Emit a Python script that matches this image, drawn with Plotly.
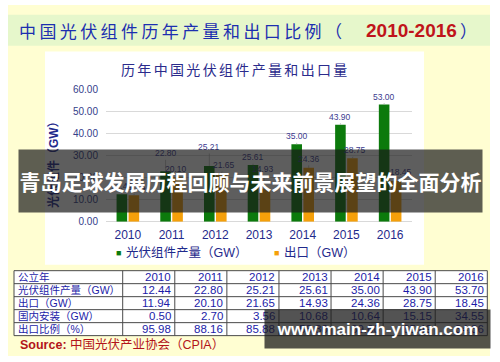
import plotly.graph_objects as go

W, H = 500, 362

# ---------------- data ----------------
years = ["2010", "2011", "2012", "2013", "2014", "2015", "2016"]
production_chart = [12.44, 22.80, 25.21, 25.61, 35.00, 43.90, 53.00]
export_chart = [11.94, 20.10, 21.65, 14.93, 24.36, 28.75, 18.45]
y_ticks = [0, 10, 20, 30, 40, 50, 60]

table_corner = "公立年"
row_labels = ["光伏组件产量（GW）", "出口（GW）", "国内安装（GW）", "出口比例（%）"]
table_production = ["12.44", "22.80", "25.21", "25.61", "35.00", "43.90", "53.70"]
table_export = ["11.94", "20.10", "21.65", "14.93", "24.36", "28.75", "18.45"]
table_domestic = ["0.50", "2.70", "3.56", "10.68", "10.64", "15.15", "34.55"]
table_ratio = ["95.98", "88.16", "85.88", "58.30", "69.60", "65.49", "34.36"]

main_title = "中国光伏组件历年产量和出口比例（"
main_title_years = "2010-2016"
chart_title = "历年中国光伏组件产量和出口量"
y_title = "光伏组件（GW）"
legend_names = ["光伏组件产量（GW）", "出口（GW）"]
source_text = "Source: 中国光伏产业协会（CPIA）"
overlay_text = "青岛足球发展历程回顾与未来前景展望的全面分析"
watermark_text = "www.main-zh-yiwan.com"

# ---------------- styles ----------------
GREEN = "#0c7a0c"
ORANGE = "#f5a00a"
NAVY = "#1f2a8c"
LABEL = "#3b3b8f"
CJK = "Noto Sans CJK SC"
SANS = "Liberation Sans, Arial, Noto Sans CJK SC"


def px(x):
    return x / W


def py(y):
    return 1 - y / H


def spaced(s, sp):
    return sp.join(list(s))


fig = go.Figure()
fig.add_trace(go.Bar(x=years, y=production_chart, name=legend_names[0],
                     marker=dict(color=GREEN, line=dict(width=0)), hoverinfo="skip"))
fig.add_trace(go.Bar(x=years, y=export_chart, name=legend_names[1],
                     marker=dict(color=ORANGE, line=dict(width=0)), hoverinfo="skip"))

shapes = []
# backgrounds
shapes.append(dict(type="rect", xref="paper", yref="paper", x0=px(8), x1=px(490), y0=0, y1=1,
                   fillcolor="#fffed2", line=dict(width=0), layer="below"))
shapes.append(dict(type="rect", xref="paper", yref="paper", x0=px(8), x1=px(490), y0=py(42), y1=py(10),
                   fillcolor="#e6f7cb", line=dict(width=0), layer="below"))
shapes.append(dict(type="rect", xref="paper", yref="paper", x0=px(45), x1=px(424), y0=py(268), y1=py(48),
                   fillcolor="#ffffff", line=dict(width=0), layer="below"))

annotations = []
# main title
annotations.append(dict(text=spaced(main_title, "\u2009"), xref="paper", yref="paper",
                        x=px(17), y=py(26), xanchor="left", yanchor="middle", showarrow=False,
                        font=dict(family=CJK, size=17, color="#1c2fb0")))
annotations.append(dict(text="<b>" + main_title_years + "</b>", xref="paper", yref="paper",
                        x=px(364), y=py(26), xanchor="left", yanchor="middle", showarrow=False,
                        font=dict(family="Liberation Sans", size=19, color="#c0141a")))
annotations.append(dict(text="）", xref="paper", yref="paper",
                        x=px(458), y=py(26), xanchor="left", yanchor="middle", showarrow=False,
                        font=dict(family=CJK, size=17, color="#1c2fb0")))
# chart title
annotations.append(dict(text=spaced(chart_title, "\u2006"), xref="paper", yref="paper",
                        x=px(234), y=py(66), xanchor="center", yanchor="middle", showarrow=False,
                        font=dict(family=CJK, size=14, color="#2b2b8c")))
# y axis title
annotations.append(dict(text="<b>" + y_title + "</b>", xref="paper", yref="paper",
                        x=px(53), y=py(162), xanchor="center", yanchor="middle", showarrow=False,
                        textangle=-90, font=dict(family=SANS, size=12, color=NAVY)))

# data labels (x given as category index on the category axis)
green_ay = [-8, -18, -19, -8, -8, -8, -8]
orange_ax = [2, -2, 3, -2, 0, 3, 5]
orange_ay = [-8, -8, -9, -20, -9, -8, -9]
for i, yr in enumerate(years):
    annotations.append(dict(x=i, y=production_chart[i], xref="x", yref="y",
                            text=f"{production_chart[i]:.2f}", showarrow=True, arrowhead=0,
                            arrowwidth=0.7, arrowcolor="#aaaaaa", ax=0, ay=green_ay[i], xshift=-6,
                            font=dict(family=SANS, size=8.5, color=LABEL)))
    annotations.append(dict(x=i, y=export_chart[i], xref="x", yref="y",
                            text=f"{export_chart[i]:.2f}", showarrow=True, arrowhead=0,
                            arrowwidth=0.7, arrowcolor="#aaaaaa", ax=orange_ax[i], ay=orange_ay[i], xshift=6,
                            font=dict(family=SANS, size=8.5, color=LABEL)))

# legend
annotations.append(dict(text="■", xref="paper", yref="paper", x=px(118), y=py(256),
                        xanchor="center", yanchor="middle", showarrow=False,
                        font=dict(family=SANS, size=9, color=GREEN)))
annotations.append(dict(text=legend_names[0], xref="paper", yref="paper", x=px(124), y=py(256),
                        xanchor="left", yanchor="middle", showarrow=False,
                        font=dict(family=SANS, size=12.5, color=NAVY)))
annotations.append(dict(text="■", xref="paper", yref="paper", x=px(276), y=py(256),
                        xanchor="center", yanchor="middle", showarrow=False,
                        font=dict(family=SANS, size=9, color=ORANGE)))
annotations.append(dict(text=legend_names[1], xref="paper", yref="paper", x=px(282), y=py(256),
                        xanchor="left", yanchor="middle", showarrow=False,
                        font=dict(family=SANS, size=12.5, color=NAVY)))

# table
row_edges = [274, 287.4, 300.8, 314.2, 327.6, 341]
first_col = 122.7
col_w = (487.3 - first_col) / len(years)
col_edges = [14, first_col] + [first_col + col_w * (k + 1) for k in range(len(years))]
shapes.append(dict(type="rect", xref="paper", yref="paper", x0=px(14), x1=px(487.3),
                   y0=py(341), y1=py(274), fillcolor="#ffffff", line=dict(width=0), layer="below"))
for ye in row_edges:
    shapes.append(dict(type="line", xref="paper", yref="paper", x0=px(14), x1=px(487.3),
                       y0=py(ye), y1=py(ye), line=dict(color="#4a4a4a", width=1)))
for xe in col_edges:
    shapes.append(dict(type="line", xref="paper", yref="paper", x0=px(xe), x1=px(xe),
                       y0=py(341), y1=py(274), line=dict(color="#4a4a4a", width=1)))

table_rows = [[table_corner] + years,
              [row_labels[0]] + table_production,
              [row_labels[1]] + table_export,
              [row_labels[2]] + table_domestic,
              [row_labels[3]] + table_ratio]
TBLUE = "#1c1ca8"
for r, row in enumerate(table_rows):
    yc = (row_edges[r] + row_edges[r + 1]) / 2
    annotations.append(dict(text=row[0], xref="paper", yref="paper", x=px(16), y=py(yc),
                            xanchor="left", yanchor="middle", showarrow=False,
                            font=dict(family=SANS, size=10.5, color=TBLUE)))
    for c, val in enumerate(row[1:]):
        annotations.append(dict(text=val, xref="paper", yref="paper", x=px(col_edges[c + 2] - 1.5),
                                y=py(yc), xanchor="right", yanchor="middle", showarrow=False,
                                font=dict(family=SANS, size=11.5, color=TBLUE)))

# source
annotations.append(dict(text="<b>Source:</b> 中国光伏产业协会（CPIA）", xref="paper", yref="paper",
                        x=px(18), y=py(350), xanchor="left", yanchor="middle", showarrow=False,
                        font=dict(family=SANS, size=12.5, color="#b3141a")))

# overlay bands (annotations drawn last so they cover earlier content)
annotations.append(dict(text="<b>" + overlay_text + "</b>", xref="paper", yref="paper",
                        x=px(250.5), y=py(181), xanchor="center", yanchor="middle", showarrow=False,
                        width=463, height=62, borderpad=0, bgcolor="rgba(25,25,25,0.70)",
                        font=dict(family=CJK, size=21, color="#ffffff")))
annotations.append(dict(text="<b>" + watermark_text + "</b>", xref="paper", yref="paper",
                        x=px(377.5), y=py(334), xanchor="center", yanchor="middle", showarrow=False,
                        width=225, height=38, borderpad=0, bgcolor="rgba(25,25,25,0.75)",
                        font=dict(family="Liberation Sans", size=17, color="#ffffff")))

fig.update_layout(
    width=W, height=H, margin=dict(l=0, r=0, t=0, b=0),
    paper_bgcolor="#ffffff", plot_bgcolor="rgba(0,0,0,0)",
    showlegend=False, barmode="group", bargap=0.45, bargroupgap=0.12,
    xaxis=dict(domain=[px(106), px(412)], type="category", range=[-0.5, len(years) - 0.5],
               autorange=False, showgrid=False, zeroline=False,
               showline=False, ticks="", tickfont=dict(family=SANS, size=12, color=NAVY),
               ticklabelstandoff=4, fixedrange=True),
    yaxis=dict(domain=[py(223.5), py(86.7)], range=[0, 60], autorange=False, tickvals=y_ticks,
               ticktext=[f"{v:.2f}" for v in y_ticks], showgrid=True, gridcolor="#d9d9d9",
               gridwidth=1, zeroline=True, zerolinecolor="#d9d9d9", zerolinewidth=1,
               showline=False, ticks="", tickfont=dict(family=SANS, size=10, color="#34408a"),
               ticklabelstandoff=7, fixedrange=True),
    shapes=shapes, annotations=annotations,
)

fig.write_html("out.html")
